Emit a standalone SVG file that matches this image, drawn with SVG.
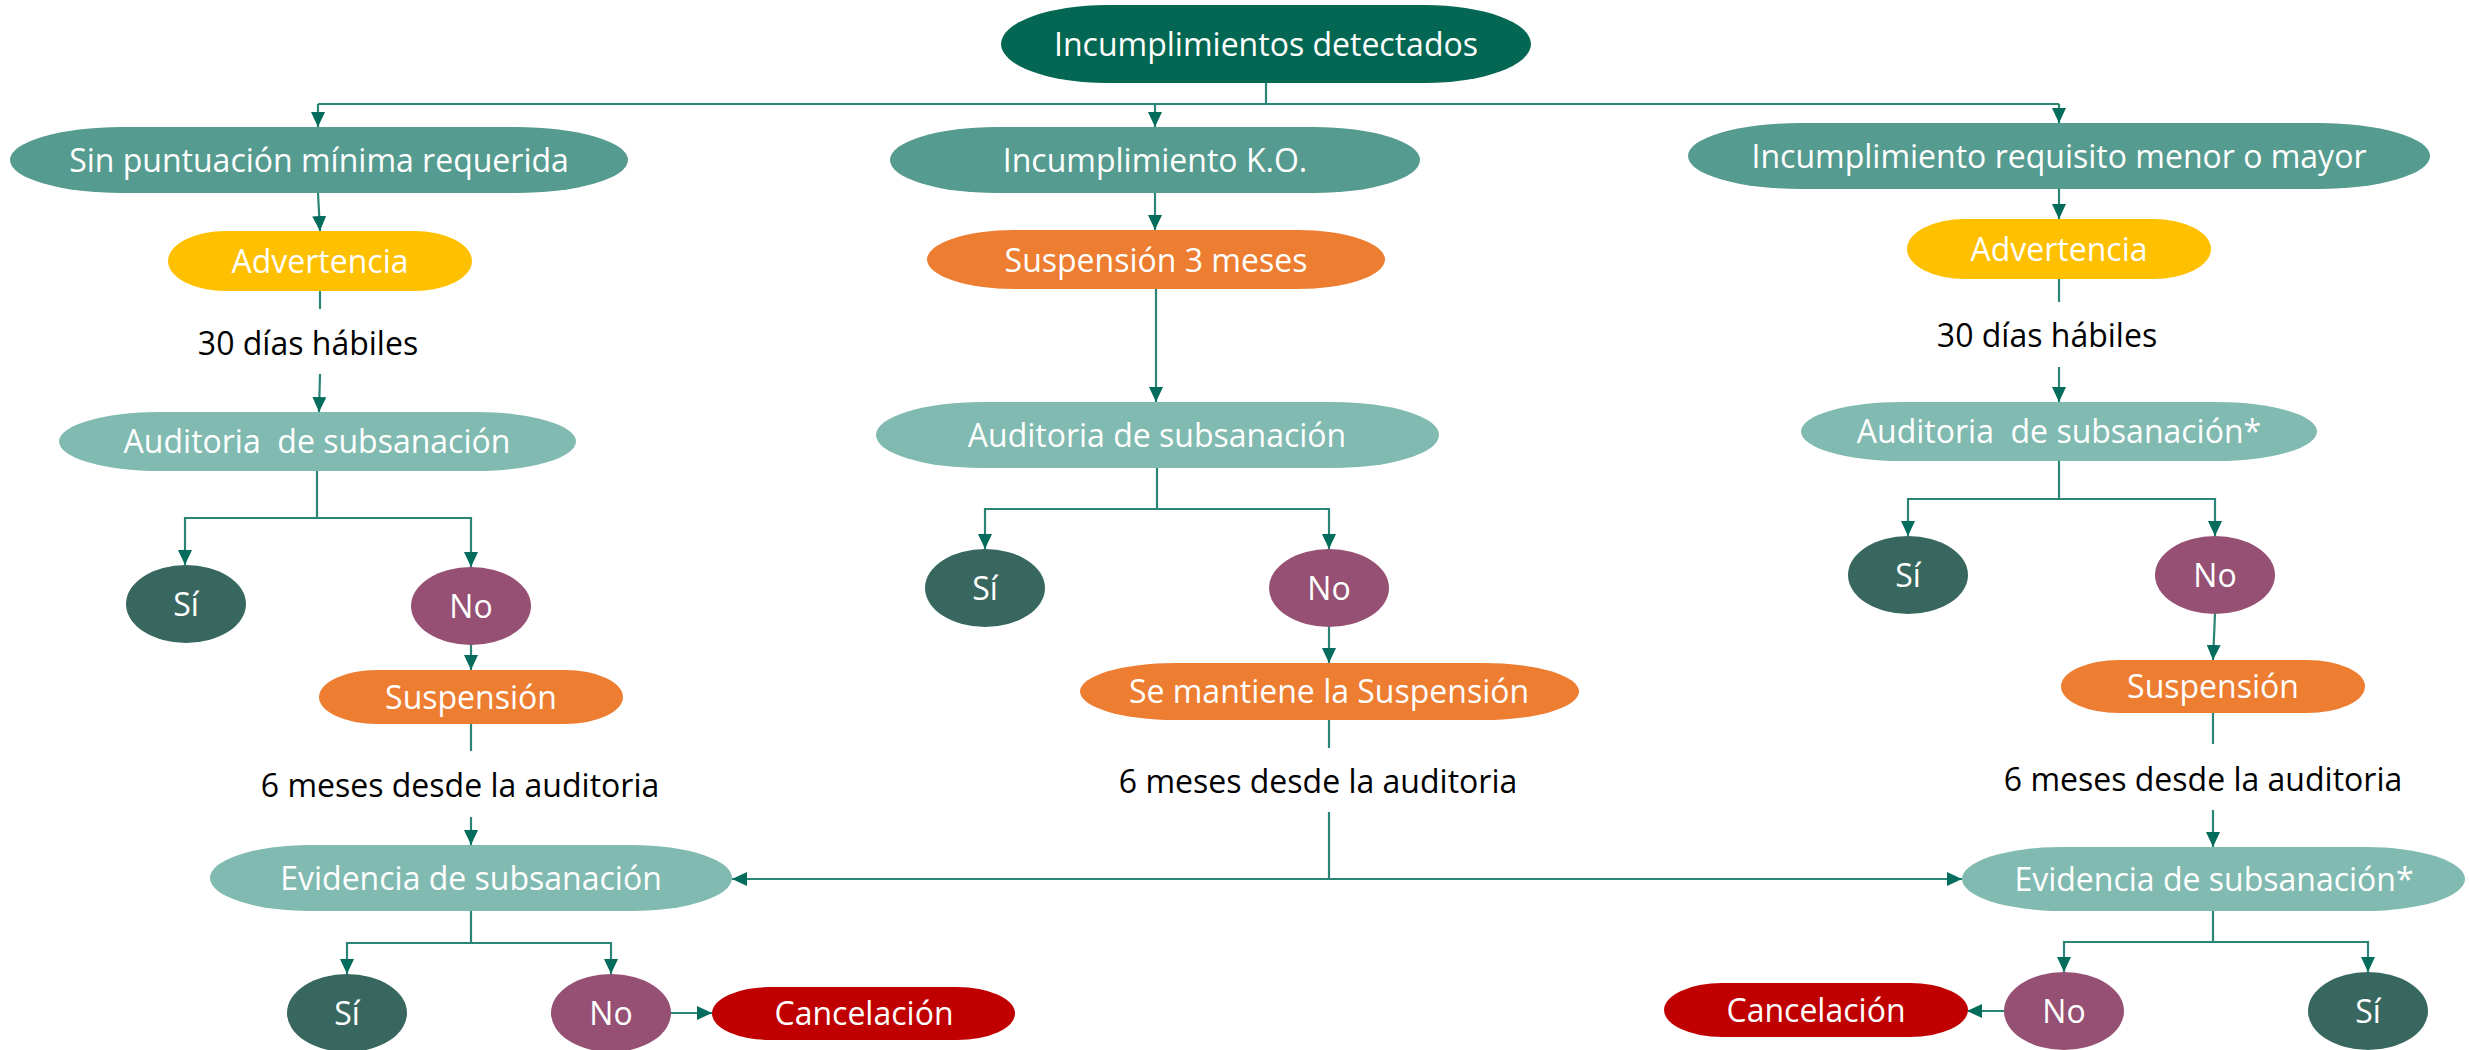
<svg xmlns="http://www.w3.org/2000/svg" width="2469" height="1050" viewBox="0 0 2469 1050">
<defs>
<marker id="arr" viewBox="0 0 15 14" refX="15" refY="7" markerWidth="15" markerHeight="14" orient="auto" markerUnits="userSpaceOnUse">
<path d="M0,0 L15,7 L0,14 z" fill="#046C5C"/>
</marker>
<style>
.t{font-family:"Open Sans","Liberation Sans",sans-serif;font-size:32px;text-anchor:middle;fill:#ffffff;white-space:pre}
.b{font-family:"Open Sans","Liberation Sans",sans-serif;font-size:32px;text-anchor:middle;fill:#000000}
.c{fill:none;stroke:#2A8576;stroke-width:2.2}
.a{marker-end:url(#arr)}
.dk{fill:#046754}
.md{fill:#559B8F}
.lt{fill:#80BAB0}
.yl{fill:#FFC000}
.or{fill:#ED7D31}
.rd{fill:#C00000}
.si{fill:#37675F}
.no{fill:#955073}
</style>
</defs>
<rect width="2469" height="1050" fill="#ffffff"/>
<g id="connectors">
<path class="c" d="M1266 83 V104 H318"/>
<path class="c a" d="M318 104 V127"/>
<path class="c" d="M1266 104 H2059"/>
<path class="c a" d="M2059 104 V123"/>
<path class="c a" d="M1155 104 V127"/>
<path class="c a" d="M318 193 L320 231"/>
<path class="c a" d="M1155 193 V230"/>
<path class="c a" d="M2059 189 V219"/>
<path class="c" d="M320 291 V309"/>
<path class="c a" d="M320 374 L319 412"/>
<path class="c a" d="M1156 289 V402"/>
<path class="c" d="M2059 279 V302"/>
<path class="c a" d="M2059 367 V402"/>
<path class="c a" d="M317 471 V518 H185 V565"/>
<path class="c a" d="M317 518 H471 V567"/>
<path class="c a" d="M1157 468 V509 H985 V549"/>
<path class="c a" d="M1157 509 H1329 V549"/>
<path class="c a" d="M2059 461 V499 H1908 V536"/>
<path class="c a" d="M2059 499 H2215 V536"/>
<path class="c a" d="M471 644 V670"/>
<path class="c a" d="M1329 627 V663"/>
<path class="c a" d="M2215 614 L2213 660"/>
<path class="c" d="M471 724 V751"/>
<path class="c a" d="M471 817 V845"/>
<path class="c" d="M1329 720 V748"/>
<path class="c a" d="M1329 812 V879 H732"/>
<path class="c a" d="M1329 879 H1962"/>
<path class="c" d="M2213 713 V744"/>
<path class="c a" d="M2213 810 V847"/>
<path class="c a" d="M471 911 V943 H347 V974"/>
<path class="c a" d="M471 943 H611 V974"/>
<path class="c a" d="M2213 911 V942 H2064 V972"/>
<path class="c a" d="M2213 942 H2368 V972"/>
<path class="c a" d="M670 1013 H712"/>
<path class="c a" d="M2004 1011 H1967"/>
</g>
<g id="n-top"><rect class="dk" x="1001" y="5" width="530" height="78" rx="106" ry="39"/><text class="t" x="1266" y="56">Incumplimientos detectados</text></g>
<g id="n-sin"><rect class="md" x="10" y="127" width="618" height="66" rx="112" ry="33"/><text class="t" x="319" y="172">Sin puntuación mínima requerida</text></g>
<g id="n-ko"><rect class="md" x="890" y="127" width="530" height="66" rx="106" ry="33"/><text class="t" x="1155" y="172">Incumplimiento K.O.</text></g>
<g id="n-req"><rect class="md" x="1688" y="123" width="742" height="66" rx="112" ry="33"/><text class="t" x="2059" y="168">Incumplimiento requisito menor o mayor</text></g>
<g id="n-advL"><rect class="yl" x="168" y="231" width="304" height="60" rx="58" ry="30"/><text class="t" x="320" y="273">Advertencia</text></g>
<g id="n-susp3"><rect class="or" x="927" y="230" width="458" height="59" rx="87" ry="29.5"/><text class="t" x="1156" y="272">Suspensión 3 meses</text></g>
<g id="n-advR"><rect class="yl" x="1907" y="219" width="304" height="60" rx="58" ry="30"/><text class="t" x="2059" y="261">Advertencia</text></g>
<text class="b" x="308" y="355">30 días hábiles</text>
<text class="b" x="2047" y="347">30 días hábiles</text>
<g id="n-audL"><rect class="lt" x="59" y="412" width="517" height="59" rx="100" ry="29.5"/><text class="t" x="317" y="453">Auditoria  de subsanación</text></g>
<g id="n-audM"><rect class="lt" x="876" y="402" width="563" height="66" rx="106" ry="33"/><text class="t" x="1157" y="447">Auditoria de subsanación</text></g>
<g id="n-audR"><rect class="lt" x="1801" y="402" width="516" height="59" rx="100" ry="29.5"/><text class="t" x="2059" y="443">Auditoria  de subsanación*</text></g>
<g id="n-siL1"><ellipse class="si" cx="186" cy="604" rx="60" ry="39"/><text class="t" x="186" y="616">Sí</text></g>
<g id="n-noL1"><ellipse class="no" cx="471" cy="606" rx="60" ry="39"/><text class="t" x="471" y="618">No</text></g>
<g id="n-siM"><ellipse class="si" cx="985" cy="588" rx="60" ry="39"/><text class="t" x="985" y="600">Sí</text></g>
<g id="n-noM"><ellipse class="no" cx="1329" cy="588" rx="60" ry="39"/><text class="t" x="1329" y="600">No</text></g>
<g id="n-siR1"><ellipse class="si" cx="1908" cy="575" rx="60" ry="39"/><text class="t" x="1908" y="587">Sí</text></g>
<g id="n-noR1"><ellipse class="no" cx="2215" cy="575" rx="60" ry="39"/><text class="t" x="2215" y="587">No</text></g>
<g id="n-suspL"><rect class="or" x="319" y="670" width="304" height="54" rx="58" ry="27"/><text class="t" x="471" y="709">Suspensión</text></g>
<g id="n-mant"><rect class="or" x="1080" y="663" width="499" height="57" rx="95" ry="28.5"/><text class="t" x="1329" y="703">Se mantiene la Suspensión</text></g>
<g id="n-suspR"><rect class="or" x="2061" y="660" width="304" height="53" rx="58" ry="26.5"/><text class="t" x="2213" y="698">Suspensión</text></g>
<text class="b" x="460" y="797">6 meses desde la auditoria</text>
<text class="b" x="1318" y="793">6 meses desde la auditoria</text>
<text class="b" x="2203" y="791">6 meses desde la auditoria</text>
<g id="n-evL"><rect class="lt" x="210" y="845" width="522" height="66" rx="100" ry="33"/><text class="t" x="471" y="890">Evidencia de subsanación</text></g>
<g id="n-evR"><rect class="lt" x="1962" y="847" width="503" height="64" rx="100" ry="32"/><text class="t" x="2214" y="891">Evidencia de subsanación*</text></g>
<g id="n-siL2"><ellipse class="si" cx="347" cy="1013" rx="60" ry="39"/><text class="t" x="347" y="1025">Sí</text></g>
<g id="n-noL2"><ellipse class="no" cx="611" cy="1013" rx="60" ry="39"/><text class="t" x="611" y="1025">No</text></g>
<g id="n-cancL"><rect class="rd" x="712" y="987" width="303" height="53" rx="58" ry="26.5"/><text class="t" x="864" y="1025">Cancelación</text></g>
<g id="n-noR2"><ellipse class="no" cx="2064" cy="1011" rx="60" ry="39"/><text class="t" x="2064" y="1023">No</text></g>
<g id="n-siR2"><ellipse class="si" cx="2368" cy="1011" rx="60" ry="39"/><text class="t" x="2368" y="1023">Sí</text></g>
<g id="n-cancR"><rect class="rd" x="1664" y="983" width="304" height="54" rx="58" ry="27"/><text class="t" x="1816" y="1022">Cancelación</text></g>
</svg>
